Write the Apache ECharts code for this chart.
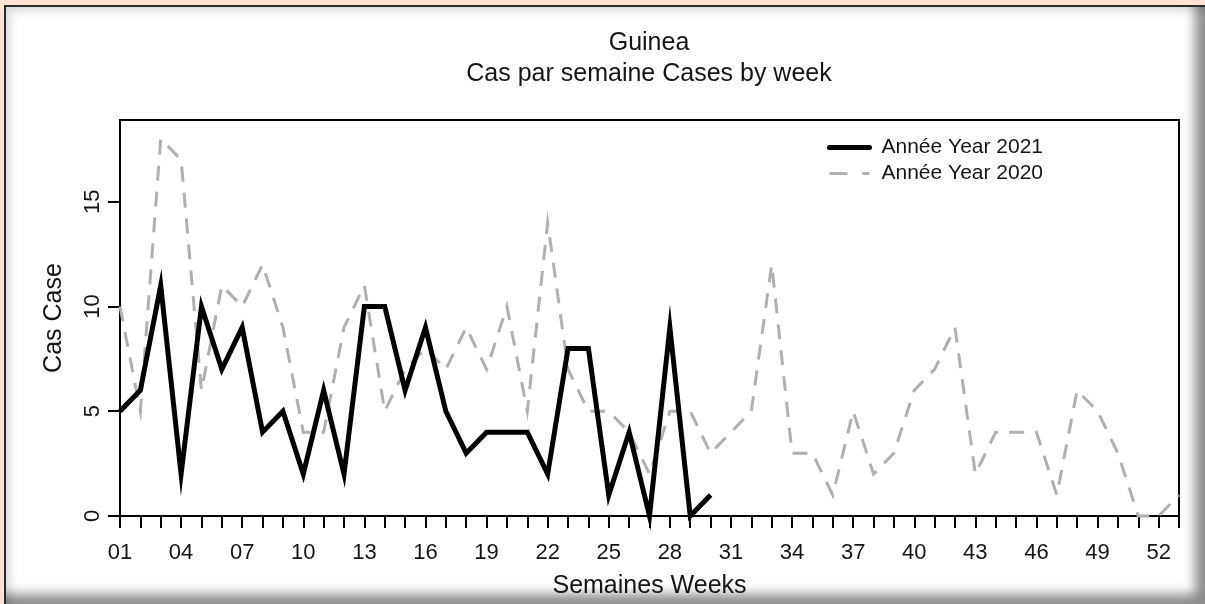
<!DOCTYPE html>
<html>
<head>
<meta charset="utf-8">
<title>Guinea - Cas par semaine</title>
<script src="https://cdn.jsdelivr.net/npm/echarts@6/dist/echarts.min.js"></script>
<style>
  html, body { margin: 0; padding: 0; width: 1205px; height: 604px; overflow: hidden; background: #fce3d4; }
  .frame {
    position: absolute; left: 4px; top: 5px; width: 1199px; height: 597px;
    background: #fff; border-left: 2px solid #2b2b2b; border-top: 2px solid #2b2b2b;
    box-shadow: inset -18px -18px 12px -8px rgba(0,0,0,0.45), inset 10px 10px 10px -6px rgba(0,0,0,0.15);
  }
  #chart { position: absolute; left: 0; top: 0; width: 1205px; height: 604px; }
</style>
</head>
<body>
<div class="frame"></div>
<div id="chart"></div>
<script>
// weeks of the year
const weeks2021 = [1,2,3,4,5,6,7,8,9,10,11,12,13,14,15,16,17,18,19,20,21,22,23,24,25,26,27,28,29,30];
const weeks2020 = [1,2,3,4,5,6,7,8,9,10,11,12,13,14,15,16,17,18,19,20,21,22,23,24,25,26,27,28,29,30,
                   31,32,33,34,35,36,37,38,39,40,41,42,43,44,45,46,47,48,49,50,51,52,53];
// cases by week
const cases2021 = [5,6,11,2,10,7,9,4,5,2,6,2,10,10,6,9,5,3,4,4,4,2,8,8,1,4,0,9,0,1];
const cases2020 = [10,5,18,17,6,11,10,12,9,4,4,9,11,5,7,8,7,9,7,10,5,14,7,5,5,4,2,5,5,3,
                   4,5,12,3,3,1,5,2,3,6,7,9,2,4,4,4,1,6,5,3,0,0,1];
// axis ticks and labels
const xTicks = [1,2,3,4,5,6,7,8,9,10,11,12,13,14,15,16,17,18,19,20,21,22,23,24,25,26,27,
                28,29,30,31,32,33,34,35,36,37,38,39,40,41,42,43,44,45,46,47,48,49,50,51,52,53];
const xLabels = [1,4,7,10,13,16,19,22,25,28,31,34,37,40,43,46,49,52];
const yTicks = [0,5,10,15];

const FONT = '"Liberation Sans", Arial, sans-serif';
const TXT = '#151515';
const GREY = '#b0b0b0';

const chart = echarts.init(document.getElementById('chart'));

const pairs = (xs, ys) => xs.map((x, i) => [x, ys[i]]);

chart.setOption({
  animation: false,
  title: [
    { text: 'Guinea', left: 644, top: 26, textAlign: 'center',
      textStyle: { fontSize: 25, fontWeight: 'normal', color: TXT, fontFamily: FONT } },
    { text: 'Cas par semaine Cases by week', left: 644, top: 57, textAlign: 'center',
      textStyle: { fontSize: 25, fontWeight: 'normal', color: TXT, fontFamily: FONT } }
  ],
  legend: {
    data: [
      { name: 'Année Year 2021', lineStyle: { color: '#000', width: 5, cap: 'round' } },
      { name: 'Année Year 2020', lineStyle: { color: GREY, width: 3, type: [18, 15] } }
    ],
    orient: 'vertical',
    left: 822, top: 132,
    itemWidth: 40, itemHeight: 14, itemGap: 5,
    itemStyle: { opacity: 0 },
    textStyle: { fontSize: 21, color: TXT, fontFamily: FONT, padding: [0, 0, 0, 7] }
  },
  grid: {
    left: 120, right: 26, top: 120, bottom: 85,
    show: true, borderColor: '#000', borderWidth: 2
  },
  xAxis: {
    type: 'value', min: 1, max: 53,
    name: 'Semaines Weeks', nameLocation: 'middle', nameGap: 58,
    nameTextStyle: { fontSize: 25, color: TXT, fontFamily: FONT },
    axisLine: { show: true, onZero: false, lineStyle: { color: '#000', width: 2 } },
    axisTick: { show: true, customValues: xTicks, length: 12, lineStyle: { color: '#000', width: 2 } },
    axisLabel: { customValues: xLabels, formatter: v => String(v).padStart(2, '0'),
      fontSize: 22, color: TXT, fontFamily: FONT, margin: 26 },
    splitLine: { show: false }
  },
  yAxis: {
    type: 'value', min: 0, max: 18.9,
    name: 'Cas Case', nameLocation: 'middle', nameGap: 53,
    nameTextStyle: { fontSize: 25, color: TXT, fontFamily: FONT },
    axisLine: { show: true, lineStyle: { color: '#000', width: 2 } },
    axisTick: { show: true, customValues: yTicks, length: 12, lineStyle: { color: '#000', width: 2 } },
    axisLabel: { customValues: yTicks, rotate: 90, fontSize: 22, color: TXT, fontFamily: FONT, margin: 16 },
    splitLine: { show: false }
  },
  series: [
    {
      name: 'Année Year 2020', type: 'line', data: pairs(weeks2020, cases2020),
      symbol: 'none', clip: false, z: 2,
      lineStyle: { color: GREY, width: 3, type: [15, 11], join: 'miter' },
      itemStyle: { color: GREY }
    },
    {
      name: 'Année Year 2021', type: 'line', data: pairs(weeks2021, cases2021),
      symbol: 'none', clip: false, z: 3,
      lineStyle: { color: '#000', width: 5, join: 'miter' },
      itemStyle: { color: '#000' }
    }
  ]
});
</script>
</body>
</html>
